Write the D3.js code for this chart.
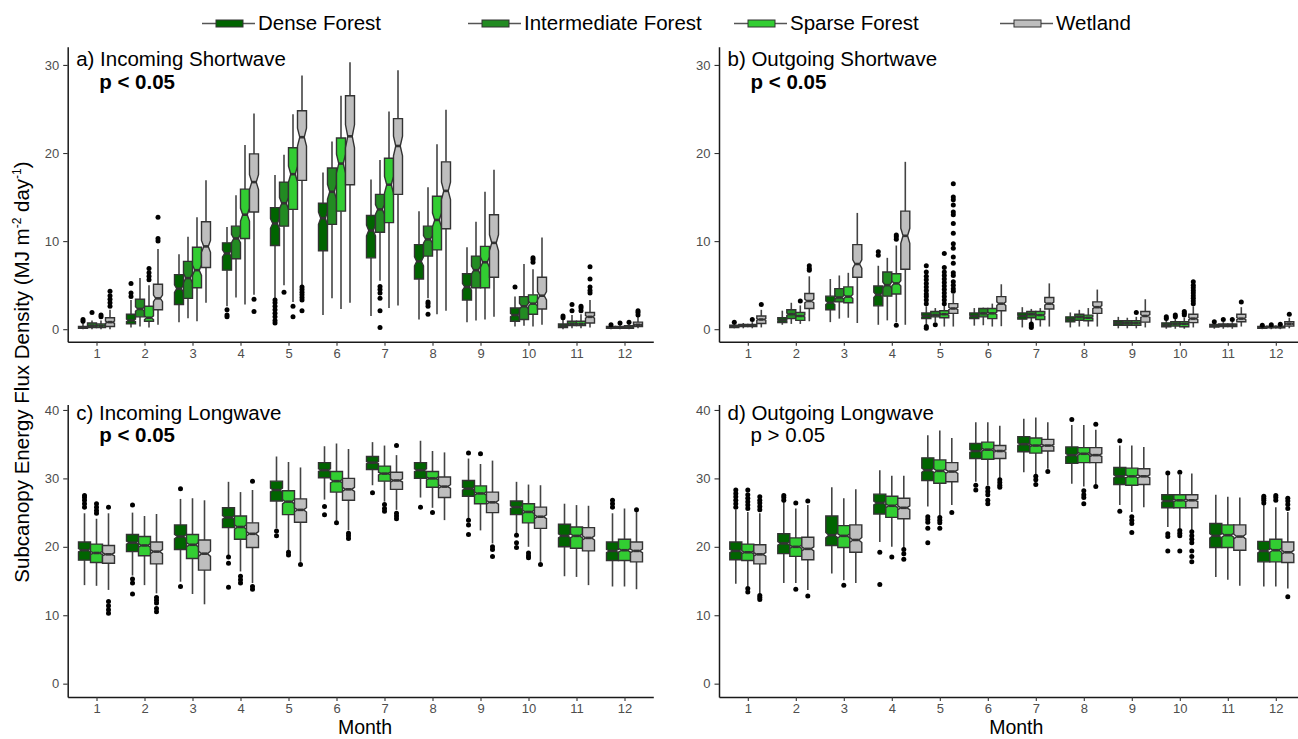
<!DOCTYPE html>
<html><head><meta charset="utf-8">
<script src="https://cdn.jsdelivr.net/npm/d3@7"></script>
<style>
html,body{margin:0;padding:0;background:#fff;}
svg{display:block;font-family:"Liberation Sans",Arial,Helvetica,sans-serif;}
</style></head>
<body>
<svg id="chart" width="1298" height="739"></svg>
<script>
// ---------- data ----------
const months = [1,2,3,4,5,6,7,8,9,10,11,12];
const categories = ["Dense Forest","Intermediate Forest","Sparse Forest","Wetland"];
const catColors = ["#006400","#228B22","#32CD32","#BEBEBE"];
const yTicksShort = [0,10,20,30];
const yTicksLong = [0,10,20,30,40];
const panelTitles = ["a) Incoming Shortwave","b) Outgoing Shortwave","c) Incoming Longwave","d) Outgoing Longwave"];
const panelP = ["p < 0.05","p < 0.05","p < 0.05","p > 0.05"];

// [lower whisker, q1, median, q3, upper whisker] per month
const swInDense = [[0,0.1,0.2,0.3,0.7],[0.2,0.6,1.0,1.7,3.3],[0.8,2.8,4.6,6.2,8.5],[2.6,6.7,8.6,9.8,11.6],[3.5,9.5,12.0,13.8,17.5],[1.6,8.9,12.6,14.3,17.8],[1.5,8.1,11.2,12.9,17.0],[1.1,5.7,7.7,9.6,13.4],[0.8,3.3,4.8,6.3,9.3],[0.3,0.9,1.6,2.4,3.7],[0,0.2,0.4,0.6,1.1],[0,0.1,0.2,0.3,0.45]];
const swInInter = [[0,0.2,0.4,0.7,1.0],[0.3,1.4,2.3,3.4,5.8],[1.25,3.5,5.8,7.7,10.5],[3.6,8.0,10.3,11.7,15.2],[5.0,11.7,14.3,16.7,19.8],[3.5,11.9,15.6,18.3,21.3],[5.5,11.0,13.6,15.3,19.2],[3.5,8.3,10.2,11.7,16.1],[1.0,4.7,6.7,8.3,12.2],[0.4,1.1,2.6,3.7,7.4],[0.1,0.4,0.6,0.9,1.6],[0,0.1,0.2,0.3,0.5]];
const swInSparse = [[0,0.2,0.4,0.6,1.0],[0.2,0.9,1.3,2.6,5.0],[0.9,4.7,6.7,9.3,12.7],[2.8,10.3,13.0,15.9,20.9],[3.1,13.6,17.6,20.6,24.4],[2.3,13.4,18.8,21.7,26.5],[2.4,12.1,16.4,19.4,24.7],[1.7,9.0,12.4,15.1,21.0],[1.1,4.7,7.6,9.4,15.6],[0.3,1.7,2.9,3.9,6.8],[0.1,0.4,0.6,0.9,1.7],[0,0.1,0.25,0.4,0.6]];
const swInWet = [[0,0.3,0.8,1.3,2.2],[0.5,2.2,3.5,5.1,9.1],[3.0,7.0,9.4,12.2,16.9],[3.9,13.3,16.7,19.9,24.5],[5.0,16.9,21.8,24.8,28.8],[3.0,16.4,21.9,26.5,30.3],[2.7,15.3,20.8,23.9,29.4],[2.1,11.4,15.7,19.0,24.9],[1.4,5.9,9.8,13.0,18.1],[0.5,2.3,3.8,5.9,10.4],[0.2,0.7,1.4,1.9,3.3],[0.1,0.3,0.5,0.8,1.4]];
// outliers [month, value]
const swInDenseOut = [[1,0.9],[1,1.1],[2,3.7],[2,4.1],[2,5.2],[4,2.2],[4,1.6],[4,1.4],[5,0.7],[5,1.0],[5,1.4],[5,1.8],[5,2.2],[5,2.6],[5,3.0],[5,3.3],[10,4.8],[11,1.3],[11,1.5],[12,0.5]];
const swInInterOut = [[1,1.9],[5,4.2],[7,4.85],[7,4.5],[7,4.1],[7,3.5],[7,2.1],[7,0.2],[8,1.7],[8,2.6],[8,2.9],[8,3.1],[11,2.1],[11,2.8],[12,0.7]];
const swInSparseOut = [[1,1.4],[1,1.6],[2,5.6],[2,6.0],[2,6.4],[2,6.9],[5,2.6],[5,1.4],[10,7.6],[10,7.9],[10,8.1],[11,2.1],[11,2.4],[11,2.6],[12,0.8]];
const swInWetOut = [[1,2.6],[1,3.0],[1,3.4],[1,3.8],[1,4.3],[2,10.0],[2,10.3],[2,12.7],[4,3.4],[4,2.0],[5,4.8],[5,4.5],[5,4.2],[5,3.9],[5,3.6],[5,3.3],[5,2.1],[11,4.1],[11,4.4],[11,4.8],[11,5.7],[11,7.1],[12,1.6],[12,1.9],[12,2.1]];

const swOutDense = [[0.1,0.2,0.3,0.45,0.6],[0.5,0.75,1.0,1.3,2.1],[0.8,2.2,3.0,3.75,5.7],[0.5,2.65,3.9,4.9,7.2],[0.5,1.2,1.5,1.85,2.6],[0.4,1.2,1.5,1.85,2.4],[0.2,1.14,1.5,1.85,2.5],[0.2,0.83,1.1,1.4,1.9],[0.1,0.45,0.7,0.95,1.4],[0.05,0.27,0.5,0.72,1.0],[0.05,0.25,0.4,0.55,0.7],[0,0.1,0.2,0.3,0.4]];
const swOutInter = [[0.1,0.3,0.4,0.55,0.7],[0.6,1.2,1.7,2.2,3.0],[1.2,3.1,3.6,4.6,6.1],[1.0,3.75,5.0,6.5,8.1],[0.8,1.4,1.6,2.0,2.4],[0.45,1.4,1.8,2.35,2.45],[0.75,1.3,1.7,2.0,2.3],[0.3,1.0,1.4,1.7,2.2],[0.1,0.45,0.7,0.95,1.3],[0.05,0.35,0.6,0.85,1.2],[0.05,0.3,0.45,0.6,0.8],[0,0.15,0.25,0.35,0.45]];
const swOutSparse = [[0.1,0.3,0.4,0.55,0.8],[0.6,1.0,1.5,1.9,2.7],[1.3,3.0,3.7,4.8,6.4],[0.8,4.0,5.2,6.3,9.5],[0.3,1.3,1.7,2.1,2.7],[0.3,1.2,1.8,2.35,2.9],[0.3,1.1,1.6,2.0,2.4],[0.3,0.95,1.3,1.6,2.4],[0.1,0.45,0.7,0.95,1.4],[0.05,0.27,0.6,0.85,1.3],[0.05,0.3,0.45,0.6,0.8],[0,0.15,0.25,0.35,0.45]];
const swOutWet = [[0.2,0.65,1.1,1.5,2.2],[0.9,2.35,3.2,4.05,6.0],[0.7,5.9,7.4,9.6,13.2],[0.5,6.8,10.6,13.4,19.0],[0.3,1.8,2.35,2.9,4.0],[0.34,2.1,2.9,3.7,5.1],[0.3,2.3,2.9,3.6,5.2],[0.3,1.8,2.5,3.1,4.5],[0.2,0.8,1.5,2.0,3.4],[0.2,0.75,1.2,1.7,2.6],[0.3,0.85,1.2,1.7,2.5],[0.1,0.35,0.6,0.85,1.3]];
const swOutDenseOut = [[1,0.8],[4,8.4],[4,8.8],[5,0.1],[5,0.3],[5,2.9],[5,3.3],[5,3.7],[5,4.0],[5,4.4],[5,4.8],[5,5.2],[5,5.6],[5,6.0],[5,6.5],[5,7.2],[10,1.2],[10,1.4],[11,0.85],[12,0.45]];
const swOutInterOut = [[5,0.5],[7,0.6],[7,0.4],[7,0.2],[10,1.4],[10,1.6],[11,1.1],[12,0.5]];
const swOutSparseOut = [[1,1.1],[2,3.2],[4,0.45],[4,10.2],[4,10.5],[4,10.7],[5,2.9],[5,3.3],[5,3.7],[5,4.1],[5,4.5],[5,4.9],[5,5.3],[5,5.7],[5,6.1],[5,6.5],[5,7.0],[5,8.6],[9,1.9],[10,1.6],[10,1.8],[10,2.0],[11,1.1],[12,0.55]];
const swOutWetOut = [[1,2.8],[2,6.7],[2,6.9],[2,7.2],[5,4.3],[5,4.6],[5,5.0],[5,5.4],[5,6.1],[5,6.4],[5,7.5],[5,8.2],[5,9.2],[5,9.7],[5,10.9],[5,12.0],[5,13.0],[5,13.3],[5,14.1],[5,14.7],[5,15.0],[5,16.5],[10,2.9],[10,3.2],[10,3.5],[10,3.8],[10,4.1],[10,4.4],[10,4.7],[10,5.0],[10,5.4],[11,3.1],[12,1.7]];

const lwInDense = [[14.4,18.05,19.5,20.7,24.9],[15.8,19.3,20.6,21.8,25.0],[14.9,19.6,21.5,23.2,27.0],[18.8,22.8,24.3,25.7,29.5],[22.7,26.7,28.3,29.6,33.2],[26.9,30.1,31.2,32.3,34.7],[29.0,31.3,32.3,33.2,35.3],[27.2,30.0,31.2,32.3,35.5],[24.1,27.4,28.5,29.7,32.9],[21.9,24.7,25.8,26.7,29.5],[15.7,20.0,21.6,23.3,26.3],[14.2,18.0,19.4,20.7,24.9]];
const lwInSparse = [[14.3,17.7,19.1,20.4,24.1],[14.4,18.7,20.2,21.5,24.5],[13.1,18.3,20.3,21.8,27.1],[16.4,21.1,22.9,24.5,28.0],[19.5,24.7,26.6,28.2,32.4],[23.8,28.0,29.6,31.0,35.1],[26.6,29.6,30.7,31.8,34.8],[25.7,28.7,30.0,31.0,34.0],[22.4,26.3,27.8,28.9,32.1],[20.0,23.5,25.1,26.3,29.1],[15.6,19.8,21.6,22.9,26.1],[14.2,18.0,19.5,21.1,25.6]];
const lwInWet = [[13.7,17.6,18.9,20.2,24.9],[13.2,17.5,19.3,20.7,24.8],[11.6,16.6,19.0,21.0,26.8],[14.7,19.9,21.9,23.5,28.3],[17.8,23.6,25.4,27.0,31.6],[22.4,26.8,28.4,30.0,34.3],[25.4,28.4,29.7,30.9,33.4],[23.9,27.2,28.8,30.2,33.8],[20.5,25.0,26.5,28.0,32.6],[17.8,22.7,24.4,25.8,29.0],[14.4,19.4,21.3,22.8,26.0],[13.8,17.8,19.4,20.7,25.1]];
const lwInDenseOut = [[1,25.8],[1,26.3],[1,26.8],[1,27.2],[1,27.5],[2,26.1],[2,15.3],[2,14.7],[2,13.1],[3,28.5],[3,14.2],[4,18.5],[4,17.6],[4,14.1],[5,22.3],[5,21.6],[6,25.9],[6,24.7],[7,27.9],[8,25.8],[9,33.7],[9,23.9],[9,23.2],[9,21.8],[10,21.7],[10,20.6],[10,19.9],[12,25.8],[12,26.3],[12,26.8]];
const lwInSparseOut = [[1,24.9],[1,25.3],[1,25.8],[1,26.3],[4,15.7],[4,15.2],[4,14.7],[5,19.2],[5,18.8],[6,23.5],[7,26.2],[7,25.6],[7,25.2],[8,25.0],[9,33.6],[10,19.1],[10,18.7],[10,18.4]];
const lwInWetOut = [[1,25.8],[1,12.0],[1,11.4],[1,10.8],[1,10.3],[2,12.6],[2,12.2],[2,11.8],[2,11.0],[2,10.5],[4,29.6],[4,14.2],[4,13.8],[5,17.4],[6,22.0],[6,21.6],[6,21.2],[7,34.8],[7,24.9],[7,24.5],[7,24.1],[9,20.0],[9,19.6],[9,18.6],[10,17.4],[12,25.4]];

const lwOutDense = [[14.6,18.1,19.4,20.7,25.4],[14.7,19.0,20.5,21.9,26.6],[16.1,20.2,21.7,24.5,28.7],[20.7,24.8,26.4,27.7,31.2],[25.9,29.7,31.2,33.0,36.3],[29.5,32.9,34.0,35.1,38.2],[30.9,33.9,35.0,36.1,38.7],[29.2,32.2,33.4,34.6,37.8],[26.1,29.1,30.3,31.6,34.8],[22.9,25.7,26.7,27.6,30.5],[15.6,19.9,21.6,23.4,27.6],[14.2,17.8,19.4,20.8,26.1]];
const lwOutSparse = [[14.2,18.0,19.2,20.4,25.1],[14.7,18.6,20.0,21.3,25.6],[15.1,19.9,21.6,23.1,27.1],[20.0,24.3,26.0,27.4,30.4],[24.5,29.3,31.1,32.7,37.0],[29.0,32.8,34.2,35.3,38.2],[30.6,33.7,34.8,35.9,38.9],[28.8,32.3,33.6,34.5,37.8],[25.1,29.0,30.3,31.5,34.8],[22.7,25.7,26.8,27.6,30.5],[15.2,19.9,21.7,23.2,27.3],[14.2,17.8,19.5,21.1,25.8]];
const lwOutWet = [[13.1,17.5,18.9,20.3,24.9],[13.7,18.1,19.7,21.4,26.1],[14.7,19.2,21.0,23.2,28.4],[19.8,24.1,25.7,27.1,30.4],[26.1,29.5,31.0,32.3,35.9],[30.0,32.9,34.0,34.8,37.7],[31.4,34.0,34.8,35.7,38.2],[29.1,32.3,33.4,34.5,37.1],[25.8,29.1,30.3,31.4,34.6],[22.4,25.7,26.8,27.6,30.7],[14.3,19.5,21.5,23.2,27.2],[13.9,17.7,19.2,20.7,25.1]];
const lwOutDenseOut = [[1,25.8],[1,26.3],[1,26.8],[1,27.3],[1,27.8],[1,28.3],[2,26.8],[2,27.2],[2,27.5],[4,19.2],[4,14.5],[5,24.4],[5,24.0],[5,23.6],[5,22.7],[5,20.6],[6,29.0],[6,28.3],[8,38.6],[9,35.5],[9,25.2],[10,30.8],[10,21.9],[10,21.5],[10,19.4],[12,26.4],[12,26.8],[12,27.1],[12,27.4]];
const lwOutSparseOut = [[1,25.6],[1,26.1],[1,26.6],[1,27.1],[1,27.6],[1,28.3],[1,13.9],[1,13.4],[2,26.4],[2,13.8],[3,14.4],[4,18.5],[5,24.3],[5,23.9],[5,23.5],[5,22.7],[6,28.6],[6,28.1],[6,27.6],[6,26.8],[6,26.3],[7,30.3],[7,29.8],[7,29.1],[8,28.2],[8,27.6],[8,27.2],[8,26.3],[9,24.4],[9,23.9],[9,23.4],[9,22.1],[10,30.9],[10,22.4],[10,22.0],[10,21.6],[10,19.4],[12,26.8],[12,27.2],[12,27.5]];
const lwOutWetOut = [[1,25.4],[1,25.9],[1,26.4],[1,26.8],[1,27.3],[1,12.9],[1,12.6],[1,12.3],[2,26.7],[2,12.8],[4,19.6],[4,19.0],[4,18.2],[5,25.0],[6,29.8],[6,29.4],[6,29.0],[6,28.7],[7,31.0],[8,37.9],[8,28.8],[10,22.2],[10,21.6],[10,21.1],[10,20.6],[10,19.4],[10,18.6],[10,17.8],[12,25.6],[12,26.2],[12,26.7],[12,27.1],[12,12.7]];

// approximate sample size per box, used for notch height (1.58*IQR/sqrt(n))
const nShort = 150;
const nLong = 300;

// ---------- layout ----------
const svg = d3.select("#chart");
const FONT = '"Liberation Sans",Arial,Helvetica,sans-serif';
const unit = 48.0;
const colsX = [67.7, 719];
const rows = [
  {top:46.7, bottom:341.7, domain:[-1.42,32.07], ticks:yTicksShort, titleY:66, pY:89, n:nShort},
  {top:404.5, bottom:697, domain:[-1.95,40.8], ticks:yTicksLong, titleY:419.5, pY:442, n:nLong}
];

const panels = [
  {row:0,col:0, series:[swInDense,swInInter,swInSparse,swInWet], outs:[swInDenseOut,swInInterOut,swInSparseOut,swInWetOut], cats:[0,1,2,3], bold:true, month:false},
  {row:0,col:1, series:[swOutDense,swOutInter,swOutSparse,swOutWet], outs:[swOutDenseOut,swOutInterOut,swOutSparseOut,swOutWetOut], cats:[0,1,2,3], bold:true, month:false},
  {row:1,col:0, series:[lwInDense,lwInSparse,lwInWet], outs:[lwInDenseOut,lwInSparseOut,lwInWetOut], cats:[0,2,3], bold:true, month:true},
  {row:1,col:1, series:[lwOutDense,lwOutSparse,lwOutWet], outs:[lwOutDenseOut,lwOutSparseOut,lwOutWetOut], cats:[0,2,3], bold:false, month:true}
];

panels.forEach((p, pi) => {
  const r = rows[p.row];
  const x0 = colsX[p.col];
  const x = d3.scaleLinear().domain([0.4, 12.6]).range([x0, x0 + 12.2*unit]);
  const y = d3.scaleLinear().domain(r.domain).range([r.bottom, r.top]);
  const g = svg.append("g");
  const nC = p.series.length;
  const slot = 0.75 / nC;
  const bw = x(1 + slot) - x(1);
  const off = i => (i - (nC - 1) / 2) * slot;

  // boxes
  p.series.forEach((ser, si) => {
    const col = catColors[p.cats[si]];
    ser.forEach((s, mi) => {
      const m = months[mi];
      const cx = x(m + off(si));
      const [lo, q1, med, q3, hi] = s;
      // whiskers
      g.append("line").attr("x1", cx).attr("x2", cx).attr("y1", y(q3)).attr("y2", y(hi))
        .attr("stroke", "#444").attr("stroke-width", 1.6);
      g.append("line").attr("x1", cx).attr("x2", cx).attr("y1", y(q1)).attr("y2", y(lo))
        .attr("stroke", "#444").attr("stroke-width", 1.6);
      const notch = 1.58 * (q3 - q1) / Math.sqrt(r.n);
      const nu = med + notch, nl = med - notch;
      const xl = cx - bw/2, xr = cx + bw/2, ind = bw * 0.25;
      const pts = [[xl,y(q3)],[xl,y(nu)],[xl+ind,y(med)],[xl,y(nl)],[xl,y(q1)],
                   [xr,y(q1)],[xr,y(nl)],[xr-ind,y(med)],[xr,y(nu)],[xr,y(q3)]];
      g.append("polygon").attr("points", pts.map(d => d.join(",")).join(" "))
        .attr("fill", col).attr("stroke", "#333333").attr("stroke-width", 1.4)
        .attr("stroke-linejoin", "miter");
      g.append("line").attr("x1", xl+ind).attr("x2", xr-ind).attr("y1", y(med)).attr("y2", y(med))
        .attr("stroke", "#333333").attr("stroke-width", 2.6);
    });
    // outliers
    p.outs[si].forEach(o => {
      g.append("circle").attr("cx", x(o[0] + off(si))).attr("cy", y(o[1])).attr("r", 2.5).attr("fill", "#000");
    });
  });

  // axes
  const ya = g.append("g").attr("transform", `translate(${x0},0)`)
    .call(d3.axisLeft(y).tickValues(r.ticks).tickSize(4.5).tickSizeOuter(0).tickPadding(4));
  const xa = g.append("g").attr("transform", `translate(0,${r.bottom})`)
    .call(d3.axisBottom(x).tickValues(months).tickFormat(d3.format("d")).tickSize(4).tickSizeOuter(0).tickPadding(3));
  [ya, xa].forEach(a => {
    a.select(".domain").attr("stroke", "#1a1a1a").attr("stroke-width", 1.5);
    a.selectAll(".tick line").attr("stroke", "#333").attr("stroke-width", 1.1);
    a.selectAll(".tick text").attr("fill", "#4D4D4D").style("font-size", "13px").style("font-family", FONT);
  });

  // titles
  svg.append("text").attr("x", x0 + 8.5).attr("y", r.titleY).text(panelTitles[pi])
    .style("font-size", "20.5px").attr("fill", "#000");
  svg.append("text").attr("x", x0 + 31.5).attr("y", r.pY).text(panelP[pi])
    .style("font-size", "20.5px").style("font-weight", p.bold ? "bold" : "normal").attr("fill", "#000");
  if (p.month) {
    svg.append("text").attr("x", (x0 + x0 + 12.2*unit)/2 + 4.5).attr("y", 734.3).attr("text-anchor", "middle")
      .text("Month").style("font-size", "19.5px").attr("fill", "#000");
  }
});

// y title
const yt = svg.append("text").attr("transform", "translate(29,372) rotate(-90)").attr("text-anchor", "middle")
  .style("font-size", "20.5px").attr("fill", "#000");
yt.append("tspan").text("Subcanopy Energy Flux Density (MJ m");
yt.append("tspan").text("-2").style("font-size", "12px").attr("dy", -8);
yt.append("tspan").text(" day").attr("dy", 8);
yt.append("tspan").text("-1").style("font-size", "12px").attr("dy", -8);
yt.append("tspan").text(")").attr("dy", 8);

// legend
const legX = [202, 468, 734, 1000];
categories.forEach((c, i) => {
  const lx = legX[i];
  svg.append("line").attr("x1", lx).attr("x2", lx + 53).attr("y1", 23.5).attr("y2", 23.5)
    .attr("stroke", "#555").attr("stroke-width", 1.3);
  svg.append("rect").attr("x", lx + 14).attr("y", 20).attr("width", 27).attr("height", 7)
    .attr("fill", catColors[i]).attr("stroke", "#333").attr("stroke-width", 1);
  svg.append("text").attr("x", lx + 56).attr("y", 29.5).text(c)
    .style("font-size", "20.5px").attr("fill", "#000");
});
</script>
</body></html>
